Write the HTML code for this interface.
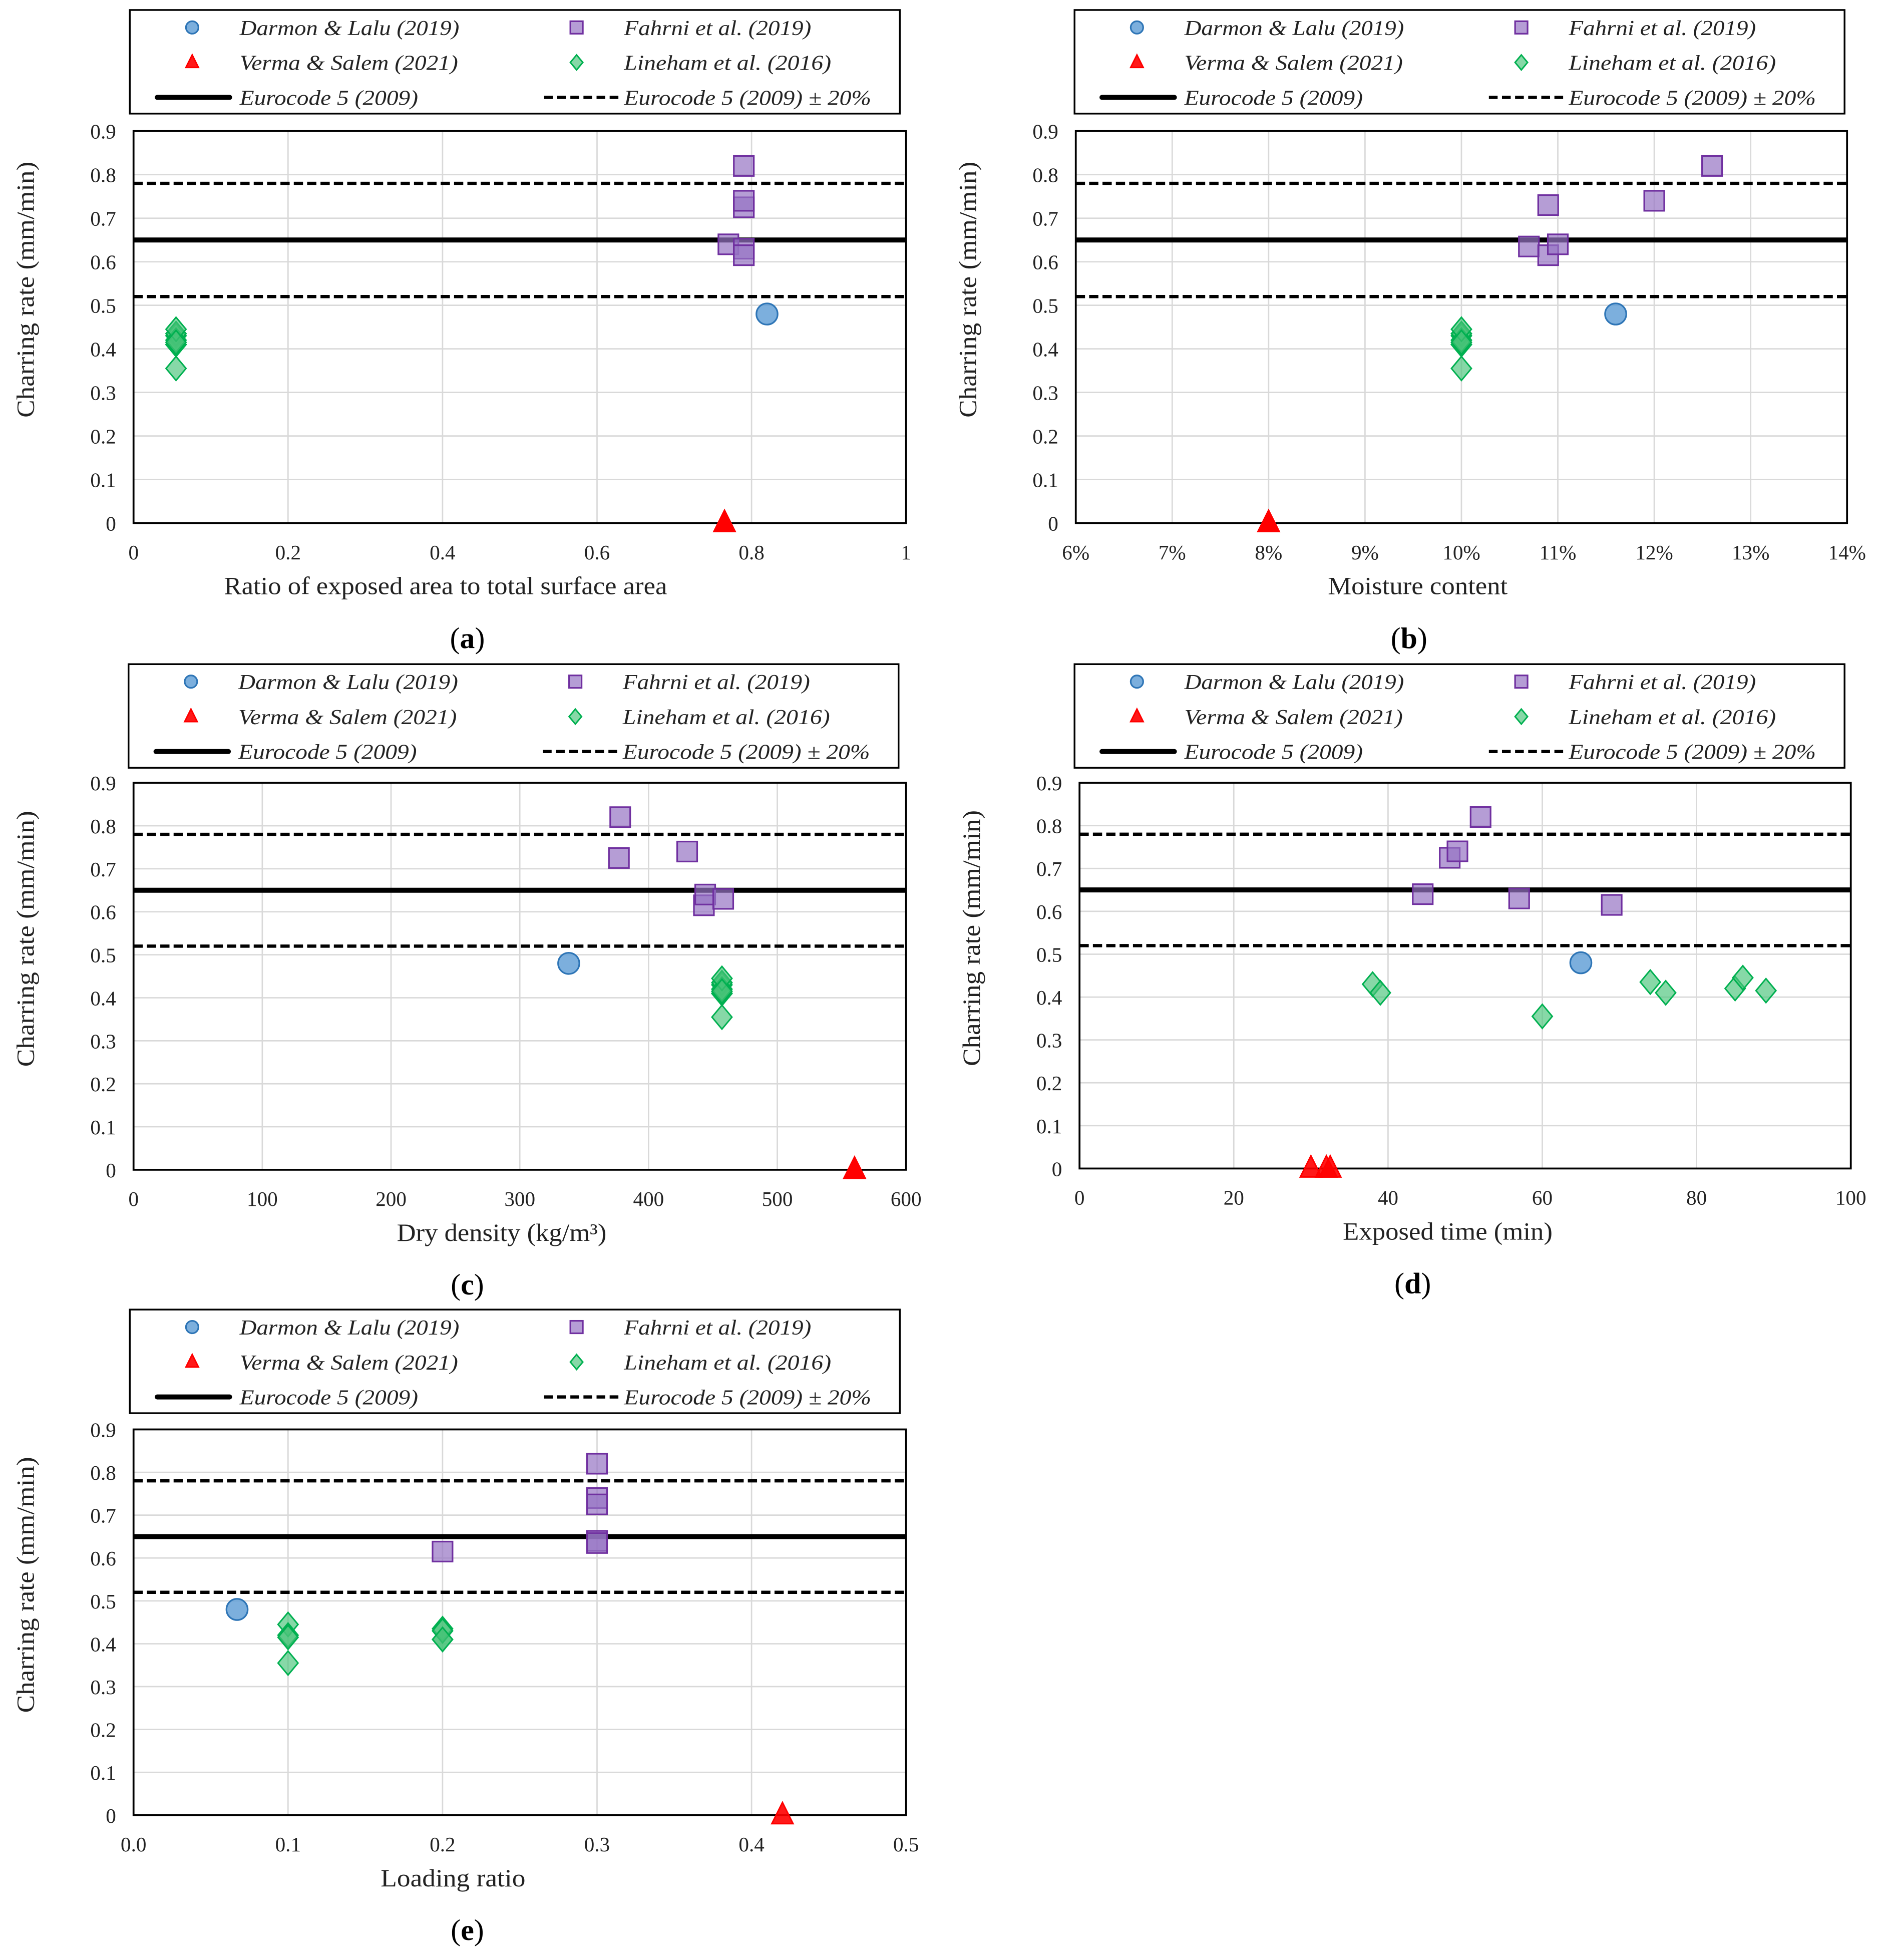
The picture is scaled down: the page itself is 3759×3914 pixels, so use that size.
<!DOCTYPE html>
<html><head><meta charset="utf-8"><style>
html,body{margin:0;padding:0;background:#fff;}
svg{display:block;font-family:"Liberation Serif",serif;}
</style></head><body>
<svg id="fig" xmlns="http://www.w3.org/2000/svg" width="3759" height="3914" viewBox="0 0 1508 1570" preserveAspectRatio="none"></svg>
<script>
// ----- data (y = charring rate mm/min) -----
const eurocode = 0.65;
const eurocodeUpper = 0.78;
const eurocodeLower = 0.52;
const yTicks = [0,0.1,0.2,0.3,0.4,0.5,0.6,0.7,0.8,0.9];
const yTickLabels = ["0","0.1","0.2","0.3","0.4","0.5","0.6","0.7","0.8","0.9"];

const aXTicks = [0,0.2,0.4,0.6,0.8,1];
const aXTickLabels = ["0","0.2","0.4","0.6","0.8","1"];
const aDarmonX = [0.82]; const aDarmonY = [0.48];
const aFahrniX = [0.77,0.79,0.79,0.79,0.79,0.79]; const aFahrniY = [0.64,0.725,0.74,0.82,0.63,0.615];
const aVermaX = [0.765,0.765,0.765]; const aVermaY = [0,0,0];
const aLinehamX = [0.055,0.055,0.055,0.055,0.055,0.055,0.055,0.055]; const aLinehamY = [0.43,0.41,0.355,0.435,0.41,0.42,0.445,0.415];

const bXTicks = [6,7,8,9,10,11,12,13,14];
const bXTickLabels = ["6%","7%","8%","9%","10%","11%","12%","13%","14%"];
const bDarmonX = [11.6]; const bDarmonY = [0.48];
const bFahrniX = [10.7,10.9,10.9,11.0,12.0,12.6]; const bFahrniY = [0.635,0.73,0.615,0.64,0.74,0.82];
const bVermaX = [8,8,8]; const bVermaY = [0,0,0];
const bLinehamX = [10,10,10,10,10,10,10,10]; const bLinehamY = [0.43,0.41,0.355,0.435,0.41,0.42,0.445,0.415];

const cXTicks = [0,100,200,300,400,500,600];
const cXTickLabels = ["0","100","200","300","400","500","600"];
const cDarmonX = [338]; const cDarmonY = [0.48];
const cFahrniX = [377,378,430,443,444,458]; const cFahrniY = [0.725,0.82,0.74,0.615,0.64,0.63];
const cVermaX = [560,560,560]; const cVermaY = [0,0,0];
const cLinehamX = [457,457,457,457,457,457,457,457]; const cLinehamY = [0.43,0.41,0.355,0.435,0.41,0.42,0.445,0.415];

const dXTicks = [0,20,40,60,80,100];
const dXTickLabels = ["0","20","40","60","80","100"];
const dDarmonX = [65]; const dDarmonY = [0.48];
const dFahrniX = [44.5,48,49,52,57,69]; const dFahrniY = [0.64,0.725,0.74,0.82,0.63,0.615];
const dVermaX = [30,32,32.5]; const dVermaY = [0,0,0];
const dLinehamX = [38,39,60,74,76,85,86,89]; const dLinehamY = [0.43,0.41,0.355,0.435,0.41,0.42,0.445,0.415];

const eXTicks = [0,0.1,0.2,0.3,0.4,0.5];
const eXTickLabels = ["0.0","0.1","0.2","0.3","0.4","0.5"];
const eDarmonX = [0.067]; const eDarmonY = [0.48];
const eFahrniX = [0.3,0.3,0.3,0.3,0.3,0.2]; const eFahrniY = [0.82,0.74,0.725,0.64,0.635,0.615];
const eVermaX = [0.42]; const eVermaY = [0];
const eLinehamX = [0.1,0.1,0.1,0.1,0.2,0.2,0.2,0.2]; const eLinehamY = [0.445,0.42,0.415,0.355,0.435,0.41,0.43,0.41];

const NS = "http://www.w3.org/2000/svg";
const fig = document.getElementById('fig');
function mk(tag, attrs, parent){
  const e = document.createElementNS(NS, tag);
  for (const k in attrs) e.setAttribute(k, attrs[k]);
  (parent||fig).appendChild(e);
  return e;
}
const C = {
  darmon:{fill:"rgba(91,155,213,0.8)",stroke:"#2e75b6"},
  fahrni:{fill:"rgba(150,115,195,0.7)",stroke:"#7030a0"},
  verma:{fill:"rgba(255,0,0,0.9)",stroke:"#ff0000"},
  lineham:{fill:"rgba(70,195,120,0.65)",stroke:"#00b050"}
};
function marker(g, type, x, y, s){
  let e;
  if (type==='darmon'){ e = mk('circle',{cx:x,cy:y,r:s*0.5,fill:C.darmon.fill,stroke:C.darmon.stroke,'stroke-width':1.3},g); }
  else if (type==='fahrni'){ e = mk('rect',{x:x-s/2,y:y-s/2,width:s,height:s,fill:C.fahrni.fill,stroke:C.fahrni.stroke,'stroke-width':1.3},g); }
  else if (type==='verma'){ e = mk('polygon',{points:`${x},${y-s*0.6} ${x-s*0.5},${y+s*0.4} ${x+s*0.5},${y+s*0.4}`,fill:C.verma.fill,stroke:C.verma.stroke,'stroke-width':1.2},g); }
  else { e = mk('polygon',{points:`${x},${y-s*0.6} ${x+s*0.5},${y} ${x},${y+s*0.6} ${x-s*0.5},${y}`,fill:C.lineham.fill,stroke:C.lineham.stroke,'stroke-width':1.2},g); }
  return e;
}
function txt(g, x, y, s, attrs){
  const t = mk('text', Object.assign({x:x,y:y}, attrs), g);
  t.textContent = s; return t;
}
function legend(g, L, T){
  const box = mk('rect',{x:L,y:T,width:617,height:83,fill:'#fff',stroke:'#000','stroke-width':1.4},g);
  
  
  const items = [
    ['darmon','Darmon & Lalu (2019)',0,0],['fahrni','Fahrni et al. (2019)',1,0],
    ['verma','Verma & Salem (2021)',0,1],['lineham','Lineham et al. (2016)',1,1],
    ['solid','Eurocode 5 (2009)',0,2],['dash','Eurocode 5 (2009) ± 20%',1,2]];
  const widths = {'Darmon & Lalu (2019)':176,'Fahrni et al. (2019)':150,'Verma & Salem (2021)':175,'Lineham et al. (2016)':166,'Eurocode 5 (2009)':143,'Eurocode 5 (2009) ± 20%':198};
  items.forEach(it=>{
    const cx = L + (it[2] ? 358 : 50), ty = T + 14 + it[3]*28;
    const eg = mk('g',{},g);
    
    
    if (it[0]==='solid') mk('line',{x1:L+22,x2:L+80,y1:ty,y2:ty,stroke:'#000','stroke-width':4,'stroke-linecap':'round'},eg);
    else if (it[0]==='dash') mk('line',{x1:L+332,x2:L+392,y1:ty,y2:ty,stroke:'#000','stroke-width':2.6,'stroke-dasharray':'7 3.5'},eg);
    else marker(eg, it[0], cx, ty, 10);
    txt(eg, L+(it[2]?396:88), ty+6, it[1], {'font-size':17,'font-style':'italic',fill:'#222',textLength:widths[it[1]],lengthAdjust:'spacingAndGlyphs'});
  });
}
function panel(id, P, xmin, xmax, xTicks, xLabels, xTitle, data, letter){
  const g = mk('g',{});
  
  
  legend(g, P.lx, P.ly);
  const X = v => P.l + (v-xmin)/(xmax-xmin)*(P.r-P.l);
  const Y = v => P.b - v/0.9*(P.b-P.t);
  yTicks.forEach((v,i)=>{
    if (i>0 && i<yTicks.length-1){
      const gl = mk('line',{x1:P.l,x2:P.r,y1:Y(v),y2:Y(v),stroke:'#d9d9d9','stroke-width':1.1},g);
      
      
    }
    const t = txt(g, P.l-14, Y(v)+6, yTickLabels[i], {'font-size':16.5,'text-anchor':'end',fill:'#222'});
    
    
  });
  xTicks.forEach((v,i)=>{
    if (i>0 && i<xTicks.length-1){
      const gl = mk('line',{x1:X(v),x2:X(v),y1:P.t,y2:P.b,stroke:'#d9d9d9','stroke-width':1.1},g);
      
      
    }
    const t = txt(g, X(v), P.b+29, xLabels[i], {'font-size':16.5,'text-anchor':'middle',fill:'#222'});
    
    
  });
  const ref1 = mk('line',{x1:P.l,x2:P.r,y1:Y(eurocodeUpper),y2:Y(eurocodeUpper),stroke:'#000','stroke-width':2.6,'stroke-dasharray':'7.4 3.3'},g);
  
  
  const ref2 = mk('line',{x1:P.l,x2:P.r,y1:Y(eurocodeLower),y2:Y(eurocodeLower),stroke:'#000','stroke-width':2.6,'stroke-dasharray':'7.4 3.3'},g);
  
  
  const ref0 = mk('line',{x1:P.l,x2:P.r,y1:Y(eurocode),y2:Y(eurocode),stroke:'#000','stroke-width':4},g);
  
  
  const frame = mk('rect',{x:P.l,y:P.t,width:P.r-P.l,height:P.b-P.t,fill:'none',stroke:'#000','stroke-width':1.5},g);
  
  
  const sizes = {darmon:17,fahrni:16,verma:17,lineham:16};
  ['lineham','darmon','fahrni','verma'].forEach(k=>{
    const xs = data[k][0], ys = data[k][1];
    xs.forEach((xv,i)=>{
      const m = marker(g, k, X(xv), Y(ys[i]), sizes[k]);
      
      
    });
  });
  const ycy = (P.t+P.b)/2 - 30;
  const yt = txt(g, 0, 0, 'Charring rate (mm/min)', {'font-size':20,'text-anchor':'middle',fill:'#222',textLength:205,lengthAdjust:'spacingAndGlyphs',transform:`translate(${P.l-80},${ycy}) rotate(-90)`});
  
  
  const xt = txt(g, P.xc, P.b+57, xTitle, {'font-size':20,'text-anchor':'middle',fill:'#222',textLength:P.xw,lengthAdjust:'spacingAndGlyphs'});
  
  
  const pl = mk('text',{x:(P.l+P.r)/2-42,y:P.b+100,'font-size':24,'text-anchor':'middle',fill:'#000'},g);
  pl.textContent = '(';
  const b = mk('tspan',{'font-weight':'bold'},pl); b.textContent = letter;
  const c = mk('tspan',{},pl); c.textContent = ')';
  
  
  return g;
}
panel('a',{lx:104,ly:8,l:107,r:726,t:105,b:419,xc:357,xw:355},0,1,aXTicks,aXTickLabels,'Ratio of exposed area to total surface area',
  {darmon:[aDarmonX,aDarmonY],fahrni:[aFahrniX,aFahrniY],verma:[aVermaX,aVermaY],lineham:[aLinehamX,aLinehamY]},'a');
panel('b',{lx:861,ly:8,l:862,r:1480,t:105,b:419,xc:1136,xw:144},6,14,bXTicks,bXTickLabels,'Moisture content',
  {darmon:[bDarmonX,bDarmonY],fahrni:[bFahrniX,bFahrniY],verma:[bVermaX,bVermaY],lineham:[bLinehamX,bLinehamY]},'b');
panel('c',{lx:103,ly:532,l:107,r:726,t:627,b:937,xc:402,xw:168},0,600,cXTicks,cXTickLabels,'Dry density (kg/m³)',
  {darmon:[cDarmonX,cDarmonY],fahrni:[cFahrniX,cFahrniY],verma:[cVermaX,cVermaY],lineham:[cLinehamX,cLinehamY]},'c');
panel('d',{lx:861,ly:532,l:865,r:1483,t:627,b:936,xc:1160,xw:168},0,100,dXTicks,dXTickLabels,'Exposed time (min)',
  {darmon:[dDarmonX,dDarmonY],fahrni:[dFahrniX,dFahrniY],verma:[dVermaX,dVermaY],lineham:[dLinehamX,dLinehamY]},'d');
panel('e',{lx:104,ly:1049,l:107,r:726,t:1145,b:1454,xc:363,xw:116},0,0.5,eXTicks,eXTickLabels,'Loading ratio',
  {darmon:[eDarmonX,eDarmonY],fahrni:[eFahrniX,eFahrniY],verma:[eVermaX,eVermaY],lineham:[eLinehamX,eLinehamY]},'e');
</script>
</body></html>
